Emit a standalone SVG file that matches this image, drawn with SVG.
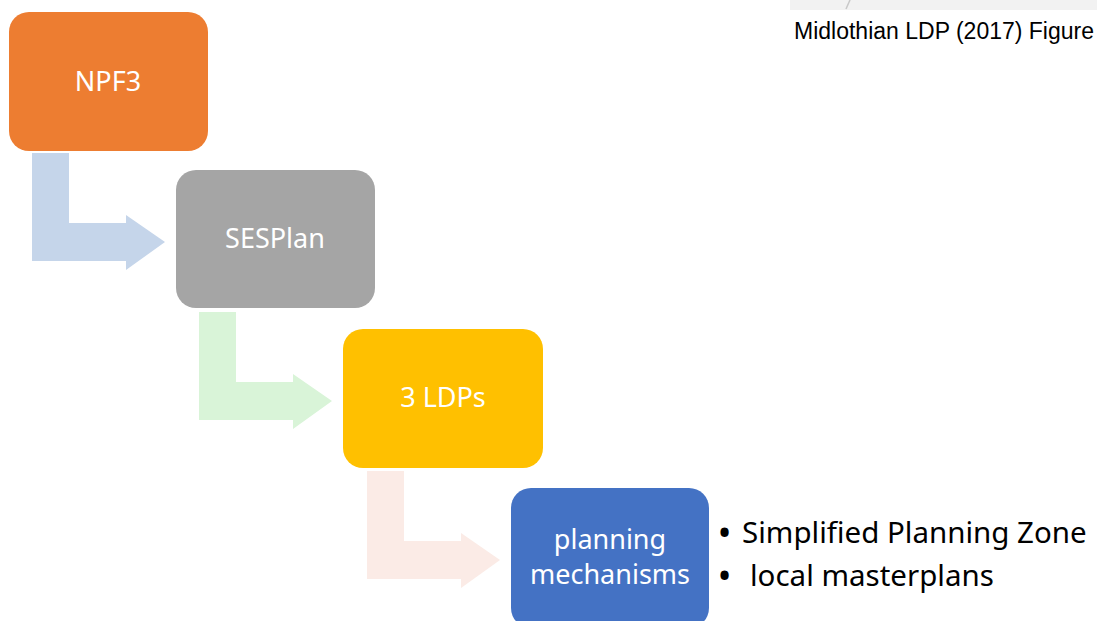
<svg xmlns="http://www.w3.org/2000/svg" width="1097" height="621" viewBox="0 0 1097 621">
<style>
.box{stroke:none}
.lbl{font-family:"Noto Sans","Open Sans",sans-serif;font-size:27px;fill:#ffffff;text-anchor:middle}
.bul{font-family:"Noto Sans","Open Sans",sans-serif;font-size:29.5px;fill:#000000}
.dot{font-weight:bold}
.cap{font-family:"Liberation Sans",Arial,sans-serif;font-size:23px;fill:#000000}
</style>
<defs>
<path id="bent" d="M0,0 H37 V70 H94 V62 L133,89 L94,117 V108 H0 Z"/>
</defs>
<rect width="1097" height="621" fill="#ffffff"/>
<g id="caption">
<rect x="790" y="0" width="307" height="10" fill="#f2f2f2"/>
<line x1="850" y1="0" x2="846" y2="9" stroke="#c8c8c8" stroke-width="1.5"/>
<text class="cap" x="794" y="39">Midlothian LDP (2017) Figure</text>
</g>
<g id="connectors">
<use href="#bent" x="32" y="153" fill="#c5d5ea"/>
<use href="#bent" x="199" y="312" fill="#d9f4d8"/>
<use href="#bent" x="367" y="471" fill="#fbebe6"/>
</g>
<g id="npf3">
<rect class="box" x="9" y="12" width="199" height="139" rx="20" fill="#ed7d31"/>
<text class="lbl" x="108" y="91">NPF3</text>
</g>
<g id="sesplan">
<rect class="box" x="176" y="170" width="199" height="138" rx="20" fill="#a5a5a5"/>
<text class="lbl" x="275" y="248">SESPlan</text>
</g>
<g id="ldps">
<rect class="box" x="343" y="329" width="200" height="139" rx="20" fill="#ffc000"/>
<text class="lbl" x="443" y="407">3 LDPs</text>
</g>
<g id="mechanisms">
<rect class="box" x="511" y="488" width="198" height="140" rx="20" fill="#4472c4"/>
<text class="lbl" x="610" y="549">planning</text>
<text class="lbl" x="610" y="584">mechanisms</text>
</g>
<g id="bullets">
<text class="bul" y="543"><tspan class="dot" x="719">•</tspan><tspan x="742">Simplified Planning Zone</tspan></text>
<text class="bul" y="586"><tspan class="dot" x="719">•</tspan><tspan x="750">local masterplans</tspan></text>
</g>
</svg>
